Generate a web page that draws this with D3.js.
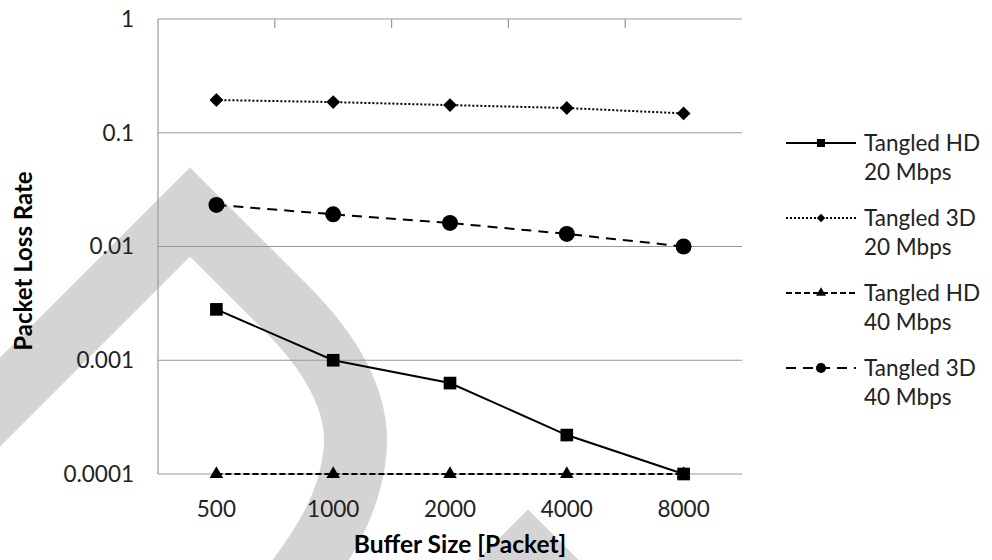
<!DOCTYPE html>
<html>
<head>
<meta charset="utf-8">
<script src="https://cdn.jsdelivr.net/npm/d3@7"></script>
<style>
  body { margin: 0; background: #fff; }
  svg { display: block; font-family: Lato, "Open Sans", sans-serif; }
</style>
</head>
<body>
<svg id="chart" width="992" height="560"></svg>
<script>
// data
const bufferSizes = ['500', '1000', '2000', '4000', '8000'];
const yTicks = [0.0001, 0.001, 0.01, 0.1, 1];
const seriesNames = ['Tangled HD 20 Mbps', 'Tangled 3D 20 Mbps', 'Tangled HD 40 Mbps', 'Tangled 3D 40 Mbps'];
const hd20 = [0.0028, 0.001, 0.00063, 0.00022, 0.0001];
const td20 = [0.194, 0.186, 0.175, 0.165, 0.148];
const hd40 = [0.0001, 0.0001, 0.0001, 0.0001, 0.0001];
const td40 = [0.0232, 0.0192, 0.0161, 0.0129, 0.0100];

const svg = d3.select('#chart');
const margin = { left: 158, right: 250, top: 19, bottom: 86 };
const W = 992, H = 560;

// light gray decoration behind the chart
const deco = svg.append('g').attr('fill', 'none').attr('stroke', '#d4d4d4')
  .attr('stroke-width', 63).attr('stroke-linejoin', 'miter');
deco.append('path')
  .attr('d', 'M-70,472 L190,212 L286,308 C330,352 360,400 355,452 C350,505 322,548 288,592');
deco.append('path')
  .attr('d', 'M440,642 L528,554 L616,642');

const x = d3.scalePoint().domain(bufferSizes).range([margin.left, W - margin.right]).padding(0.5);
const xb = d3.scaleBand().domain(bufferSizes).range([margin.left, W - margin.right]);
const y = d3.scaleLog().domain([1e-4, 1]).range([H - margin.bottom, margin.top]);

const axisColor = '#999';
const fs = 22.5;

// horizontal gridlines
svg.append('g').selectAll('line').data(yTicks).join('line')
  .attr('x1', margin.left).attr('x2', W - margin.right)
  .attr('y1', d => y(d)).attr('y2', d => y(d))
  .attr('stroke', axisColor).attr('stroke-width', 1.2);

// left axis line
svg.append('line')
  .attr('x1', margin.left).attr('x2', margin.left)
  .attr('y1', y(1)).attr('y2', y(1e-4))
  .attr('stroke', axisColor).attr('stroke-width', 1.2);

// category axis sits at the top (ticks between categories, pointing down)
svg.append('g').selectAll('line').data(bufferSizes.slice(1)).join('line')
  .attr('x1', d => xb(d)).attr('x2', d => xb(d))
  .attr('y1', y(1)).attr('y2', y(1) + 9)
  .attr('stroke', axisColor).attr('stroke-width', 1.2);

// y tick labels
svg.append('g').selectAll('text').data(yTicks).join('text')
  .attr('x', 134).attr('y', d => y(d))
  .attr('dy', '0.35em')
  .attr('text-anchor', 'end')
  .attr('font-size', fs).attr('fill', '#222')
  .text(d => d3.format('~g')(d));

// x tick labels
svg.append('g').selectAll('text').data(bufferSizes).join('text')
  .attr('x', d => x(d)).attr('y', 517)
  .attr('text-anchor', 'middle')
  .attr('font-size', fs).attr('fill', '#222')
  .text(d => d);

svg.append('text')
  .attr('x', 460).attr('y', 553)
  .attr('text-anchor', 'middle')
  .attr('font-size', 24.5).attr('font-weight', 'bold')
  .text('Buffer Size [Packet]');

svg.append('text')
  .attr('transform', 'translate(32,261) rotate(-90)')
  .attr('text-anchor', 'middle')
  .attr('font-size', 24).attr('font-weight', 'bold')
  .text('Packet Loss Rate');

const line = d3.line().x((d, i) => x(bufferSizes[i])).y(d => y(d));

const series = [
  { name: seriesNames[0], values: hd20, dash: null, marker: d3.symbolSquare, size: 160, lsize: 64, rot: 0 },
  { name: seriesNames[1], values: td20, dash: '2,2', marker: d3.symbolSquare, size: 95, lsize: 36, rot: 45 },
  { name: seriesNames[2], values: hd40, dash: '6,3', marker: d3.symbolTriangle, size: 80, lsize: 42, rot: 0 },
  { name: seriesNames[3], values: td40, dash: '10,7', marker: d3.symbolCircle, size: 200, lsize: 80, rot: 0 }
];

const plot = svg.append('g');
series.forEach(s => {
  plot.append('path')
    .attr('d', line(s.values))
    .attr('fill', 'none').attr('stroke', '#000').attr('stroke-width', 2)
    .attr('stroke-dasharray', s.dash);
  plot.append('g').selectAll('path').data(s.values).join('path')
    .attr('transform', (d, i) => `translate(${x(bufferSizes[i])},${y(d)}) rotate(${s.rot})`)
    .attr('d', d3.symbol().type(s.marker).size(s.size))
    .attr('fill', '#000');
});

// legend
const legend = svg.append('g');
series.forEach((s, i) => {
  const ly = 143 + i * 75;
  const g = legend.append('g').attr('transform', `translate(786,${ly})`);
  g.append('line').attr('x1', 0).attr('x2', 70)
    .attr('stroke', '#000').attr('stroke-width', 2).attr('stroke-dasharray', s.dash);
  g.append('path').attr('transform', `translate(35,0) rotate(${s.rot})`)
    .attr('d', d3.symbol().type(s.marker).size(s.lsize)).attr('fill', '#000');
  const parts = s.name.split(' ');
  g.append('text').attr('x', 78).attr('y', 0).attr('dy', '0.35em')
    .attr('font-size', fs).attr('fill', '#222')
    .text(parts.slice(0, 2).join(' '));
  g.append('text').attr('x', 78).attr('y', 29).attr('dy', '0.35em')
    .attr('font-size', fs).attr('fill', '#222')
    .text(parts.slice(2).join(' '));
});
</script>
</body>
</html>
